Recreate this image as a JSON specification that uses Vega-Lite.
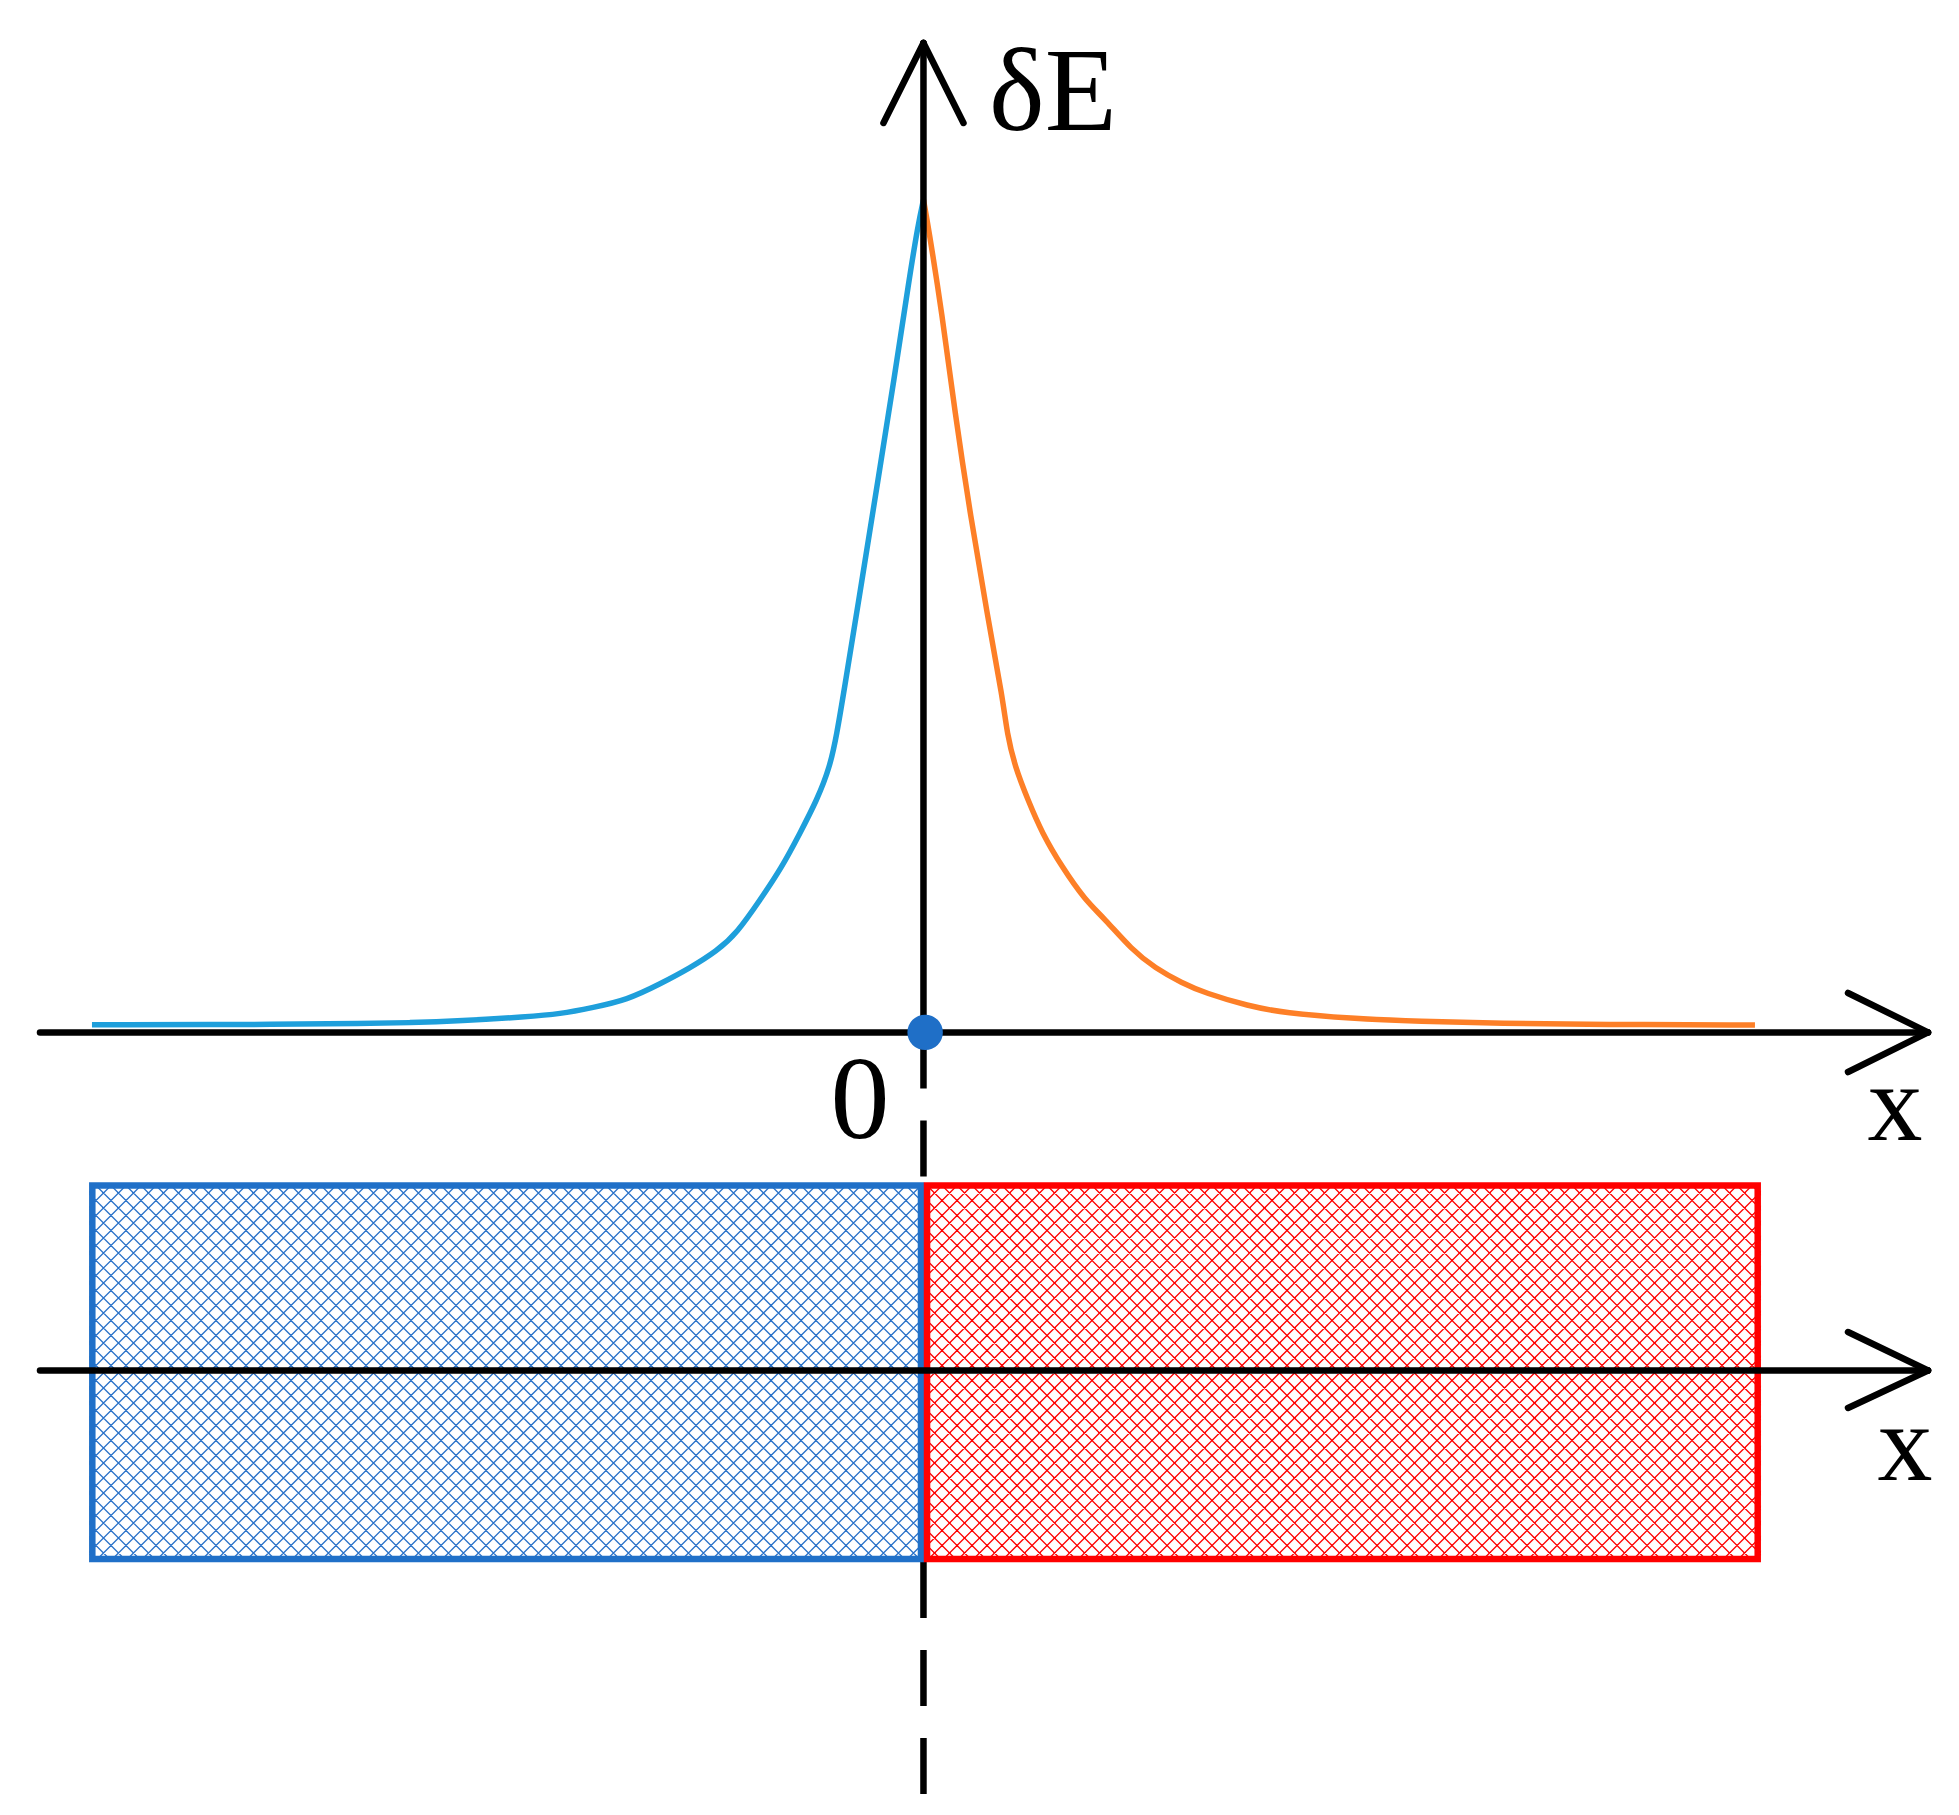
{
  "$schema": "https://vega.github.io/schema/vega-lite/v6.json",
  "width": 1959,
  "height": 1815,
  "autosize": {"type": "none"},
  "padding": 0,
  "background": "white",
  "config": {"view": {"stroke": null}},
  "datasets": {
    "curve": [
      {"side": "left", "x": -100.17, "y": 0.92},
      {"side": "left", "x": -75.95, "y": 0.95},
      {"side": "left", "x": -67.88, "y": 1.07},
      {"side": "left", "x": -61.86, "y": 1.15},
      {"side": "left", "x": -55.83, "y": 1.37},
      {"side": "left", "x": -47.76, "y": 1.88},
      {"side": "left", "x": -43.79, "y": 2.21},
      {"side": "left", "x": -39.81, "y": 2.99},
      {"side": "left", "x": -35.72, "y": 3.89},
      {"side": "left", "x": -31.74, "y": 5.81},
      {"side": "left", "x": -28.13, "y": 7.73},
      {"side": "left", "x": -24.87, "y": 9.78},
      {"side": "left", "x": -22.46, "y": 11.94},
      {"side": "left", "x": -19.69, "y": 15.9},
      {"side": "left", "x": -17.04, "y": 19.86},
      {"side": "left", "x": -14.87, "y": 23.95},
      {"side": "left", "x": -12.83, "y": 27.91},
      {"side": "left", "x": -11.26, "y": 31.88},
      {"side": "left", "x": -10.42, "y": 35.96},
      {"side": "left", "x": -9.69, "y": 40.28},
      {"side": "left", "x": -7.4, "y": 54.34},
      {"side": "left", "x": -5.48, "y": 66.35},
      {"side": "left", "x": -3.55, "y": 78.36},
      {"side": "left", "x": -1.74, "y": 90.37},
      {"side": "left", "x": -0.66, "y": 96.98},
      {"side": "left", "x": 0, "y": 100},
      {"side": "right", "x": 0, "y": 100},
      {"side": "right", "x": 0.55, "y": 96.98},
      {"side": "right", "x": 2.23, "y": 86.41},
      {"side": "right", "x": 3.8, "y": 74.39},
      {"side": "right", "x": 5.61, "y": 62.38},
      {"side": "right", "x": 7.65, "y": 50.37},
      {"side": "right", "x": 9.58, "y": 39.92},
      {"side": "right", "x": 10.06, "y": 35.96},
      {"side": "right", "x": 11.03, "y": 31.88},
      {"side": "right", "x": 12.59, "y": 27.91},
      {"side": "right", "x": 14.28, "y": 23.95},
      {"side": "right", "x": 16.69, "y": 19.86},
      {"side": "right", "x": 19.46, "y": 15.9},
      {"side": "right", "x": 21.75, "y": 13.74},
      {"side": "right", "x": 25.12, "y": 9.9},
      {"side": "right", "x": 27.89, "y": 7.73},
      {"side": "right", "x": 31.15, "y": 5.93},
      {"side": "right", "x": 33.92, "y": 4.73},
      {"side": "right", "x": 39.1, "y": 3.17},
      {"side": "right", "x": 43.55, "y": 2.33},
      {"side": "right", "x": 51.38, "y": 1.67},
      {"side": "right", "x": 59.82, "y": 1.31},
      {"side": "right", "x": 69.46, "y": 1.07},
      {"side": "right", "x": 81.5, "y": 0.95},
      {"side": "right", "x": 100.17, "y": 0.89}
    ],
    "hatch": [
      {"side": "left", "x": -0.3, "y": -18.39},
      {"side": "right", "x": 0.43, "y": -18.39}
    ],
    "regions": [
      {"side": "left", "x": -100.13, "x2": -0.3, "y": -18.39, "y2": -63.25},
      {"side": "right", "x": 0.43, "x2": 100.5, "y": -18.39, "y2": -63.25}
    ],
    "masks": [
      {"x": -111.25, "x2": -100.5, "y": -15, "y2": -67},
      {"x": 100.9, "x2": 124.75, "y": -15, "y2": -67}
    ],
    "dashes": [
      {"x": 0, "y": 0, "y2": -18.39},
      {"x": 0, "y": -63.61, "y2": -91.96}
    ],
    "arrows": [
      {"x": -106.43, "y": 0, "x2": 121.02, "y2": 0},
      {"x": 111.38, "y": 4.73, "x2": 121.02, "y2": 0},
      {"x": 111.38, "y": -4.76, "x2": 121.02, "y2": 0},
      {"x": -106.43, "y": -40.61, "x2": 121.02, "y2": -40.61},
      {"x": 111.38, "y": -35.99, "x2": 121.02, "y2": -40.61},
      {"x": 111.38, "y": -45.11, "x2": 121.02, "y2": -40.61},
      {"x": 0, "y": 0, "x2": 0, "y2": 118.84},
      {"x": -4.82, "y": 109.23, "x2": 0, "y2": 118.84},
      {"x": 4.82, "y": 109.23, "x2": 0, "y2": 118.84}
    ],
    "origin": [{"x": 0.2, "y": 0}],
    "labels": [
      {"label": "δE", "x": 15.6, "y": 108.39},
      {"label": "0", "x": -7.65, "y": -12.69},
      {"label": "x", "x": 117.04, "y": -12.93},
      {"label": "x", "x": 118.25, "y": -53.76}
    ]
  },
  "encoding": {
    "x": {"field": "x", "type": "quantitative", "scale": {"domain": [-111.25, 124.75], "nice": false, "zero": false}, "axis": null},
    "y": {"field": "y", "type": "quantitative", "scale": {"domain": [-94, 124], "nice": false, "zero": false}, "axis": null}
  },
  "layer": [
    {
      "data": {"name": "hatch"},
      "transform": [{"filter": "datum.side === 'left'"}],
      "mark": {"type": "point", "filled": false, "opacity": 1, "size": 900, "strokeWidth": 1.3, "color": "#2a72c9",
        "shape": "M-1,0l1,1M-2,0l2,2M-3,0l3,3M-4,0l4,4M-5,0l5,5M-6,0l6,6M-7,0l7,7M-8,0l8,8M-9,0l9,9M-10,0l10,10M-11,0l11,11M-12,0l12,12M-13,0l13,13M-14,0l14,14M-15,0l15,15M-16,0l16,16M-17,0l17,17M-18,0l18,18M-19,0l19,19M-20,0l20,20M-21,0l21,21M-22,0l22,22M-23,0l23,23M-24,0l24,24M-25,0l25,25m-26,-25l25,25m-26,-25l25,25m-26,-25l25,25m-26,-25l25,25m-26,-25l25,25m-26,-25l25,25m-26,-25l25,25m-26,-25l25,25m-26,-25l25,25m-26,-25l25,25m-26,-25l25,25m-26,-25l25,25m-26,-25l25,25m-26,-25l25,25m-26,-25l25,25m-26,-25l25,25m-26,-25l25,25m-26,-25l25,25m-26,-25l25,25m-26,-25l25,25m-26,-25l25,25m-26,-25l25,25m-26,-25l25,25m-26,-25l25,25m-26,-25l25,25m-26,-25l25,25m-26,-25l25,25m-26,-25l25,25m-26,-25l25,25m-26,-25l25,25m-26,-25l25,25m-26,-25l25,25m-26,-25l25,25m-26,-25l25,25m-26,-25l25,25m-26,-25l25,25m-26,-25l25,25m-26,-25l25,25m-26,-25l25,25m-26,-25l25,25m-26,-25l25,25m-26,-25l25,25m-26,-25l25,25m-26,-25l25,25m-26,-25l25,25m-26,-25l25,25m-26,-25l25,25m-26,-25l25,25m-26,-25l25,25m-26,-25l25,25m-26,-25l25,25m-26,-25l25,25m-26,-25l25,25m-26,-25l25,25m-26,-25l25,25m-26,-25l25,25m-26,-25l25,25m-26,-25l25,25m-26,-25l25,25m-26,-25l25,25M0,0l-25,25m24,-25l-25,25m24,-25l-25,25m24,-25l-25,25m24,-25l-25,25m24,-25l-25,25m24,-25l-25,25m24,-25l-25,25m24,-25l-25,25m24,-25l-25,25m24,-25l-25,25m24,-25l-25,25m24,-25l-25,25m24,-25l-25,25m24,-25l-25,25m24,-25l-25,25m24,-25l-25,25m24,-25l-25,25m24,-25l-25,25m24,-25l-25,25m24,-25l-25,25m24,-25l-25,25m24,-25l-25,25m24,-25l-25,25m24,-25l-25,25m24,-25l-25,25m24,-25l-25,25m24,-25l-25,25m24,-25l-25,25m24,-25l-25,25m24,-25l-25,25m24,-25l-25,25m24,-25l-25,25m24,-25l-25,25m24,-25l-25,25m24,-25l-25,25m24,-25l-25,25m24,-25l-25,25m24,-25l-25,25m24,-25l-25,25m24,-25l-25,25m24,-25l-25,25m24,-25l-25,25m24,-25l-25,25m24,-25l-25,25m24,-25l-25,25m24,-25l-25,25m24,-25l-25,25m24,-25l-25,25m24,-25l-25,25m24,-25l-25,25m24,-25l-25,25m24,-25l-25,25m24,-25l-25,25m24,-25l-25,25m24,-25l-25,25m24,-25l-25,25m24,-25l-25,25m24,-25l-25,25m24,-25l-25,25M0,1l-24,24M0,2l-23,23M0,3l-22,22M0,4l-21,21M0,5l-20,20M0,6l-19,19M0,7l-18,18M0,8l-17,17M0,9l-16,16M0,10l-15,15M0,11l-14,14M0,12l-13,13M0,13l-12,12M0,14l-11,11M0,15l-10,10M0,16l-9,9M0,17l-8,8M0,18l-7,7M0,19l-6,6M0,20l-5,5M0,21l-4,4M0,22l-3,3M0,23l-2,2M0,24l-1,1"}
    },
    {
      "data": {"name": "hatch"},
      "transform": [{"filter": "datum.side === 'right'"}],
      "mark": {"type": "point", "filled": false, "opacity": 1, "size": 900, "strokeWidth": 1.3, "color": "#ff0000",
        "shape": "M1,0l-1,1M2,0l-2,2M3,0l-3,3M4,0l-4,4M5,0l-5,5M6,0l-6,6M7,0l-7,7M8,0l-8,8M9,0l-9,9M10,0l-10,10M11,0l-11,11M12,0l-12,12M13,0l-13,13M14,0l-14,14M15,0l-15,15M16,0l-16,16M17,0l-17,17M18,0l-18,18M19,0l-19,19M20,0l-20,20M21,0l-21,21M22,0l-22,22M23,0l-23,23M24,0l-24,24M25,0l-25,25m26,-25l-25,25m26,-25l-25,25m26,-25l-25,25m26,-25l-25,25m26,-25l-25,25m26,-25l-25,25m26,-25l-25,25m26,-25l-25,25m26,-25l-25,25m26,-25l-25,25m26,-25l-25,25m26,-25l-25,25m26,-25l-25,25m26,-25l-25,25m26,-25l-25,25m26,-25l-25,25m26,-25l-25,25m26,-25l-25,25m26,-25l-25,25m26,-25l-25,25m26,-25l-25,25m26,-25l-25,25m26,-25l-25,25m26,-25l-25,25m26,-25l-25,25m26,-25l-25,25m26,-25l-25,25m26,-25l-25,25m26,-25l-25,25m26,-25l-25,25m26,-25l-25,25m26,-25l-25,25m26,-25l-25,25m26,-25l-25,25m26,-25l-25,25m26,-25l-25,25m26,-25l-25,25m26,-25l-25,25m26,-25l-25,25m26,-25l-25,25m26,-25l-25,25m26,-25l-25,25m26,-25l-25,25m26,-25l-25,25m26,-25l-25,25m26,-25l-25,25m26,-25l-25,25m26,-25l-25,25m26,-25l-25,25m26,-25l-25,25m26,-25l-25,25m26,-25l-25,25m26,-25l-25,25m26,-25l-25,25m26,-25l-25,25m26,-25l-25,25m26,-25l-25,25m26,-25l-25,25m26,-25l-25,25M0,0l25,25m-24,-25l25,25m-24,-25l25,25m-24,-25l25,25m-24,-25l25,25m-24,-25l25,25m-24,-25l25,25m-24,-25l25,25m-24,-25l25,25m-24,-25l25,25m-24,-25l25,25m-24,-25l25,25m-24,-25l25,25m-24,-25l25,25m-24,-25l25,25m-24,-25l25,25m-24,-25l25,25m-24,-25l25,25m-24,-25l25,25m-24,-25l25,25m-24,-25l25,25m-24,-25l25,25m-24,-25l25,25m-24,-25l25,25m-24,-25l25,25m-24,-25l25,25m-24,-25l25,25m-24,-25l25,25m-24,-25l25,25m-24,-25l25,25m-24,-25l25,25m-24,-25l25,25m-24,-25l25,25m-24,-25l25,25m-24,-25l25,25m-24,-25l25,25m-24,-25l25,25m-24,-25l25,25m-24,-25l25,25m-24,-25l25,25m-24,-25l25,25m-24,-25l25,25m-24,-25l25,25m-24,-25l25,25m-24,-25l25,25m-24,-25l25,25m-24,-25l25,25m-24,-25l25,25m-24,-25l25,25m-24,-25l25,25m-24,-25l25,25m-24,-25l25,25m-24,-25l25,25m-24,-25l25,25m-24,-25l25,25m-24,-25l25,25m-24,-25l25,25m-24,-25l25,25m-24,-25l25,25m-24,-25l25,25M0,1l24,24M0,2l23,23M0,3l22,22M0,4l21,21M0,5l20,20M0,6l19,19M0,7l18,18M0,8l17,17M0,9l16,16M0,10l15,15M0,11l14,14M0,12l13,13M0,13l12,12M0,14l11,11M0,15l10,10M0,16l9,9M0,17l8,8M0,18l7,7M0,19l6,6M0,20l5,5M0,21l4,4M0,22l3,3M0,23l2,2M0,24l1,1"}
    },
    {
      "data": {"name": "masks"},
      "mark": {"type": "rect", "fill": "white", "strokeWidth": 0},
      "encoding": {"x2": {"field": "x2"}, "y2": {"field": "y2"}}
    },
    {
      "data": {"name": "dashes"},
      "mark": {"type": "rule", "color": "black", "strokeWidth": 6.5, "strokeDash": [56, 32], "strokeCap": "butt"},
      "encoding": {"y2": {"field": "y2"}}
    },
    {
      "data": {"name": "regions"},
      "transform": [{"filter": "datum.side === 'left'"}],
      "mark": {"type": "rect", "fill": "transparent", "stroke": "#2070c8", "strokeWidth": 6.5},
      "encoding": {"x2": {"field": "x2"}, "y2": {"field": "y2"}}
    },
    {
      "data": {"name": "regions"},
      "transform": [{"filter": "datum.side === 'right'"}],
      "mark": {"type": "rect", "fill": "transparent", "stroke": "#ff0000", "strokeWidth": 6.5},
      "encoding": {"x2": {"field": "x2"}, "y2": {"field": "y2"}}
    },
    {
      "data": {"name": "curve"},
      "transform": [{"filter": "datum.side === 'left'"}],
      "mark": {"type": "line", "color": "#1e9fdb", "strokeWidth": 5.5, "interpolate": "basis"},
      "encoding": {}
    },
    {
      "data": {"name": "curve"},
      "transform": [{"filter": "datum.side === 'right'"}],
      "mark": {"type": "line", "color": "#fd7f27", "strokeWidth": 5.5, "interpolate": "basis"},
      "encoding": {}
    },
    {
      "data": {"name": "arrows"},
      "mark": {"type": "rule", "color": "black", "strokeWidth": 6.5, "strokeCap": "round"},
      "encoding": {"x2": {"field": "x2"}, "y2": {"field": "y2"}}
    },
    {
      "data": {"name": "origin"},
      "mark": {"type": "circle", "size": 1257, "color": "#1f6fc7", "opacity": 1}
    },
    {
      "data": {"name": "labels"},
      "transform": [{"filter": "datum.label !== 'x'"}],
      "mark": {"type": "text", "font": "Liberation Serif", "fontSize": 118, "align": "center", "baseline": "alphabetic", "color": "black"},
      "encoding": {"text": {"field": "label"}}
    },
    {
      "data": {"name": "labels"},
      "transform": [{"filter": "datum.label === 'x'"}],
      "mark": {"type": "text", "font": "Liberation Serif", "fontSize": 110, "align": "center", "baseline": "alphabetic", "color": "black"},
      "encoding": {"text": {"field": "label"}}
    }
  ]
}
